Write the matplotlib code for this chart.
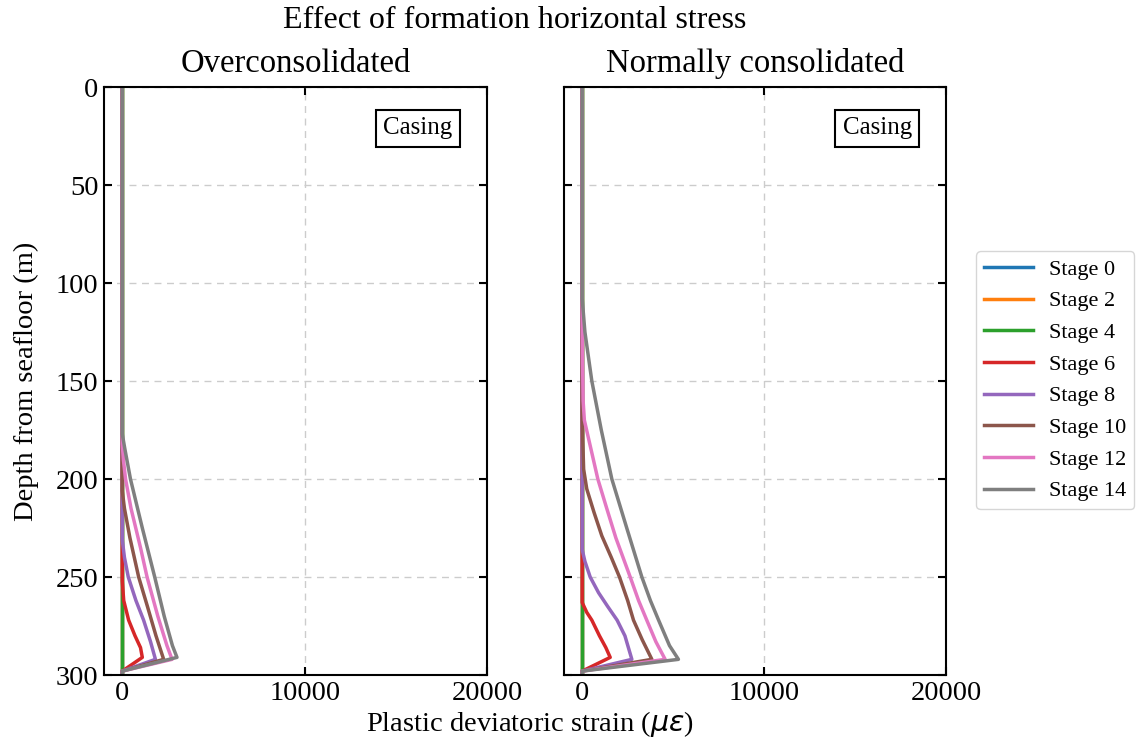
import numpy as np
import matplotlib
matplotlib.use("Agg")
import matplotlib.pyplot as plt

plt.rcParams['font.family'] = ['Liberation Serif', 'DejaVu Serif']
plt.rcParams['mathtext.fontset'] = 'dejavusans'

stages = ["Stage 0", "Stage 2", "Stage 4", "Stage 6", "Stage 8", "Stage 10", "Stage 12", "Stage 14"]
colors = ["#1f77b4", "#ff7f0e", "#2ca02c", "#d62728", "#9467bd", "#8c564b", "#e377c2", "#7f7f7f"]

# depth (m) and plastic deviatoric strain (micro-strain) per stage
# overconsolidated
oc_depth = {
    "Stage 0": [0, 300],
    "Stage 2": [0, 300],
    "Stage 4": [0, 300],
    "Stage 6": [0, 252, 262, 272, 280, 286, 291, 298, 300],
    "Stage 8": [0, 231, 240, 250, 262, 272, 283, 292, 298, 300],
    "Stage 10": [0, 206, 215, 230, 250, 265, 280, 292, 298, 300],
    "Stage 12": [0, 182, 190, 200, 215, 235, 250, 270, 285, 292, 298, 300],
    "Stage 14": [0, 177, 185, 200, 225, 250, 270, 285, 291, 298, 300],
}
oc_strain = {
    "Stage 0": [0, 0],
    "Stage 2": [0, 0],
    "Stage 4": [0, 0],
    "Stage 6": [0, 0, 80, 350, 700, 1000, 1100, 0, 0],
    "Stage 8": [0, 0, 120, 330, 750, 1170, 1550, 1820, 0, 0],
    "Stage 10": [0, 0, 120, 420, 900, 1380, 1850, 2270, 0, 0],
    "Stage 12": [0, 0, 60, 180, 480, 1000, 1360, 1950, 2450, 2730, 0, 0],
    "Stage 14": [0, 0, 150, 450, 1100, 1780, 2300, 2750, 3000, 0, 0],
}

# normally consolidated
nc_depth = {
    "Stage 0": [0, 300],
    "Stage 2": [0, 300],
    "Stage 4": [0, 300],
    "Stage 6": [0, 263, 268, 272, 280, 286, 291, 298, 300],
    "Stage 8": [0, 236, 242, 250, 258, 265, 272, 280, 292, 298, 300],
    "Stage 10": [0, 166, 180, 195, 205, 217, 229, 240, 250, 262, 272, 282, 292, 298, 300],
    "Stage 12": [0, 115, 140, 160, 170, 183, 200, 215, 230, 250, 262, 272, 283, 292, 298, 300],
    "Stage 14": [0, 108, 125, 150, 175, 200, 225, 250, 262, 272, 285, 292, 298, 300],
}
nc_strain = {
    "Stage 0": [0, 0],
    "Stage 2": [0, 0],
    "Stage 4": [0, 0],
    "Stage 6": [0, 0, 250, 530, 950, 1300, 1540, 0, 0],
    "Stage 8": [0, 0, 150, 440, 900, 1400, 1920, 2350, 2730, 0, 0],
    "Stage 10": [0, 0, 30, 80, 250, 650, 1080, 1600, 2050, 2500, 2820, 3300, 3830, 0, 0],
    "Stage 12": [0, 0, 20, 50, 120, 440, 860, 1350, 1850, 2640, 3100, 3550, 4050, 4560, 0, 0],
    "Stage 14": [0, 0, 150, 530, 1050, 1630, 2450, 3280, 3750, 4200, 4800, 5290, 0, 0],
}

fig = plt.figure(figsize=(11.38, 7.4), dpi=100)
ax1 = fig.add_axes([0.0914, 0.0878, 0.3366, 0.7946])
ax2 = fig.add_axes([0.4956, 0.0878, 0.3357, 0.7946])

panels = [(ax1, oc_depth, oc_strain, "Overconsolidated"),
          (ax2, nc_depth, nc_strain, "Normally consolidated")]

for ax, dep, eps, title in panels:
    for name, c in zip(stages, colors):
        ax.plot(eps[name], dep[name], color=c, lw=2.5, label=name)
    ax.set_xlim(-1000, 20000)
    ax.set_ylim(300, 0)
    ax.set_xticks([0, 10000, 20000])
    ax.set_yticks([0, 50, 100, 150, 200, 250, 300])
    ax.grid(True, ls=(0, (5, 4)), color="#cccccc", lw=1.0)
    ax.tick_params(direction="in", length=6, width=1.5, labelsize=20.5,
                   top=True, right=True, pad=4)
    for s in ax.spines.values():
        s.set_linewidth(1.5)
    ax.set_title(title, fontsize=23.5, pad=10.5)
    ax.text(0.82, 0.93, "Casing", transform=ax.transAxes, fontsize=18,
            ha="center", va="center",
            bbox=dict(boxstyle="square,pad=0.3", fc="white", ec="black", lw=1.5))

ax2.tick_params(labelleft=False)
ax1.set_ylabel("Depth from seafloor (m)", fontsize=20.5, labelpad=12)

fig.text(0.466, 0.022, r"Plastic deviatoric strain ($\mu\varepsilon$)", fontsize=20.5,
         ha="center", va="center")
fig.text(0.452, 0.972, "Effect of formation horizontal stress", fontsize=23,
         ha="center", va="center")

handles, labels = ax1.get_legend_handles_labels()
fig.legend(handles, labels, loc="center left", bbox_to_anchor=(0.848, 0.486),
           fontsize=16, handlelength=2.2, handletextpad=0.75, labelspacing=0.5,
           borderpad=0.35)

fig.savefig("out.png", dpi=100)
